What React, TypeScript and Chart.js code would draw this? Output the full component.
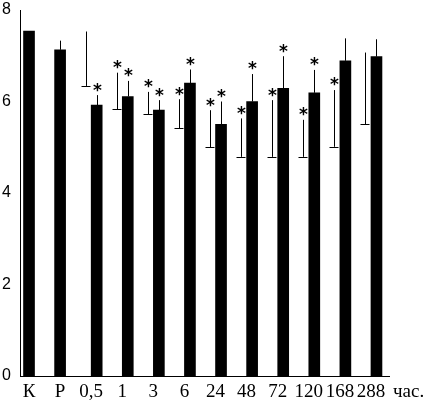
import React, { useEffect, useRef } from 'react';
import { Chart, registerables } from 'chart.js';

Chart.register(...registerables);

// Time points (categories) along the x axis
const categories = ['К', 'Р', '0,5', '1', '3', '6', '24', '48', '72', '120', '168', '288'];
const unitLabel = 'час.';

// Group A (open bars: only the mean mark and upper error bar are drawn)
const groupA: (number | null)[] = [null, null, 6.34, 5.83, 5.72, 5.41, 5.0, 4.79, 4.79, 4.79, 5.01, 5.5];
const groupAErr: (number | null)[] = [null, null, 1.19, 0.8, 0.49, 0.64, 0.81, 0.84, 1.24, 0.81, 1.24, 1.57];
const groupASig = [false, false, false, true, true, true, true, true, true, true, true, false];

// Group B (solid black bars)
const groupB = [7.54, 7.13, 5.92, 6.11, 5.81, 6.4, 5.5, 6.0, 6.29, 6.19, 6.89, 6.98];
const groupBErr = [0, 0.2, 0.22, 0.34, 0.22, 0.3, 0.5, 0.6, 0.7, 0.5, 0.49, 0.38];
const groupBSig = [false, false, true, true, true, true, true, true, true, true, false, false];

const yMin = 0;
const yMax = 8;
const yStep = 2;

const X_FONT = { family: '"Liberation Serif", "Times New Roman", serif', size: 19 };
const X_PAD = 5;

const errorPlugin = {
  id: 'errorBars',
  afterDatasetsDraw(chart: any) {
    const ctx = chart.ctx;
    const ys = chart.scales.y;
    const sets = [
      { vals: groupA, errs: groupAErr, sig: groupASig, cap: true },
      { vals: groupB, errs: groupBErr, sig: groupBSig, cap: false },
    ];
    sets.forEach((s, di) => {
      const meta = chart.getDatasetMeta(di);
      meta.data.forEach((bar: any, i: number) => {
        const v = s.vals[i];
        if (v === null || v === undefined) return;
        const e = (s.errs[i] as number) || 0;
        const x = Math.round(bar.x) + 0.5;
        const y0 = ys.getPixelForValue(v);
        const y1 = ys.getPixelForValue(v + e);
        ctx.save();
        ctx.strokeStyle = '#000';
        ctx.lineWidth = 1;
        ctx.beginPath();
        if (s.cap) {
          const yc = Math.round(y0) + 0.5;
          ctx.moveTo(x - 5, yc);
          ctx.lineTo(x + 4, yc);
        }
        if (e > 0) {
          ctx.moveTo(x, y0);
          ctx.lineTo(x, y1);
        }
        ctx.stroke();
        if (s.sig[i]) {
          ctx.fillStyle = '#000';
          ctx.font = 'bold 17px "DejaVu Sans"';
          ctx.textAlign = 'center';
          ctx.textBaseline = 'middle';
          ctx.fillText('*', x, y1 - 8 + 4);
        }
        ctx.restore();
      });
    });
  },
  afterDraw(chart: any) {
    const ctx = chart.ctx;
    const xs = chart.scales.x;
    ctx.save();
    ctx.fillStyle = '#000';
    ctx.font = `${X_FONT.size}px ${X_FONT.family}`;
    ctx.textAlign = 'left';
    ctx.textBaseline = 'middle';
    ctx.fillText(unitLabel, xs.right + 4, xs.top + X_PAD + (X_FONT.size * 1.2) / 2);
    ctx.restore();
  },
};

export default function App() {
  const ref = useRef<HTMLCanvasElement>(null);
  useEffect(() => {
    const chart = new Chart(ref.current as HTMLCanvasElement, {
      type: 'bar',
      data: {
        datasets: [
          {
            label: 'A',
            data: groupA.map((v, i) => ({ x: i, y: v })) as any,
            backgroundColor: 'rgba(0,0,0,0)',
            borderWidth: 0,
            barThickness: 11,
            skipNull: true,
          } as any,
          {
            label: 'B',
            data: groupB.map((v, i) => ({ x: i, y: v })) as any,
            backgroundColor: '#000',
            borderWidth: 0,
            barThickness: 11,
            skipNull: true,
          } as any,
        ],
      },
      options: {
        responsive: false,
        animation: false,
        layout: { padding: { top: 10, right: 38, bottom: 0, left: 0 } },
        plugins: { legend: { display: false }, tooltip: { enabled: false } },
        scales: {
          x: {
            type: 'linear',
            offset: false,
            min: -0.29,
            max: 11.58,
            grid: { display: false, drawTicks: false },
            border: { display: true, color: '#000', width: 1 },
            ticks: {
              stepSize: 1,
              includeBounds: false,
              autoSkip: false,
              maxRotation: 0,
              minRotation: 0,
              padding: X_PAD,
              color: '#000',
              font: X_FONT,
              callback: (value: any) => categories[value as number] ?? '',
            },
            afterFit: (scale: any) => {
              scale.height = 30;
              scale.paddingLeft = 0;
              scale.paddingRight = 0;
            },
          },
          y: {
            min: yMin,
            max: yMax,
            grid: { display: false, drawTicks: false },
            border: { display: true, color: '#000', width: 1 },
            ticks: {
              stepSize: yStep,
              padding: 9,
              color: '#000',
              font: { family: '"Liberation Sans", Arial, sans-serif', size: 16 },
            },
            afterFit: (scale: any) => {
              scale.width = 20;
              scale.paddingTop = 0;
              scale.paddingBottom = 0;
            },
          },
        },
      } as any,
      plugins: [errorPlugin],
    });
    return () => chart.destroy();
  }, []);
  return (
    <div style={{ position: 'fixed', left: 0, top: 0, width: 427, height: 406, background: '#fff' }}>
      <canvas ref={ref} width={427} height={406} style={{ display: 'block' }} />
    </div>
  );
}
